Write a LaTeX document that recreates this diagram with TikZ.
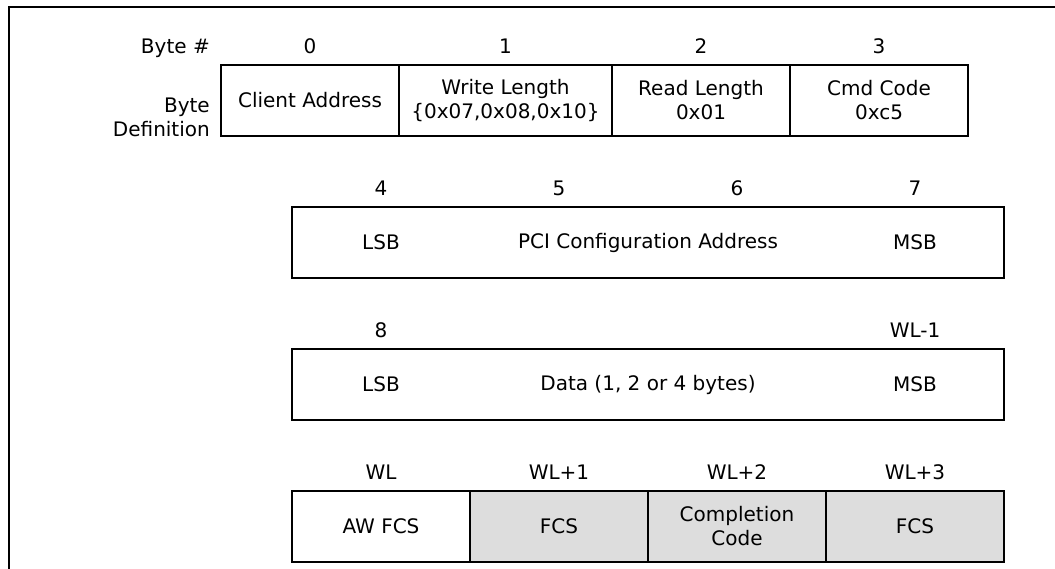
\documentclass[tikz,border=0pt]{standalone}
\usepackage{fontspec}
\setmainfont{DejaVu Sans}
\usepackage{tikz}
\usetikzlibrary{positioning}

\definecolor{cellgray}{RGB}{221,221,221}
\newcommand{\pktfont}{\fontsize{20}{24}\selectfont}

\begin{document}
\begin{tikzpicture}[
  x=1pt, y=-1pt,
  cell/.style={draw, line width=1.4pt, minimum width=178pt, minimum height=71pt,
               inner sep=0pt, outer sep=0pt, align=center, font=\pktfont},
  widecell/.style={cell, minimum width=712pt},
  shaded/.style={cell, fill=cellgray},
  num/.style={inner sep=0pt, font=\pktfont},
  lbl/.style={inner sep=0pt, font=\pktfont}
]
\useasboundingbox (0,0) rectangle (1055,569);
\draw[line width=2.5pt] (9,569) -- (9,7) -- (1055,7);

% header row
\node[lbl, anchor=base east] (bytenum) at (210,54) {Byte \#};
\node[lbl, anchor=north east, align=right] (bytedef) at (210,98) {Byte\\Definition};
\node[cell] (addr) at (310,100.4) {Client Address};
\node[cell, minimum width=213pt, right=0pt of addr] (wlen)
  {Write Length\\\{0x07,0x08,0x10\}};
\node[cell, right=0pt of wlen] (rlen) {Read Length\\0x01};
\node[cell, right=0pt of rlen] (cmd) {Cmd Code\\0xc5};
\node[num, above=11pt of addr] (n0) {0};
\node[num, above=11pt of wlen] (n1) {1};
\node[num, above=11pt of rlen] (n2) {2};
\node[num, above=11pt of cmd] (n3) {3};

% PCI address
\node[widecell] (pci) at (648,242.5) {PCI Configuration Address};
\node[lbl] (pcilsb) at (381,242.5) {LSB};
\node[lbl] (pcimsb) at (915,242.5) {MSB};
\node[num, anchor=south] (n4) at (381,196) {4};
\node[num, anchor=south] (n5) at (559,196) {5};
\node[num, anchor=south] (n6) at (737,196) {6};
\node[num, anchor=south] (n7) at (915,196) {7};

% data
\node[widecell] (data) at (648,384.5) {Data (1, 2 or 4 bytes)};
\node[lbl] (datalsb) at (381,384.5) {LSB};
\node[lbl] (datamsb) at (915,384.5) {MSB};
\node[num, anchor=south] (n8) at (381,338) {8};
\node[num, anchor=south] (nwlm) at (915,338) {WL-1};

% FCS row
\node[cell] (awfcs) at (381,526.5) {AW FCS};
\node[shaded, right=0pt of awfcs] (fcsa) {FCS};
\node[shaded, right=0pt of fcsa] (ccode) {Completion\\Code};
\node[shaded, right=0pt of ccode] (fcsb) {FCS};
\node[num, above=11pt of awfcs] (nwl) {WL};
\node[num, above=11pt of fcsa] (nwla) {WL+1};
\node[num, above=11pt of ccode] (nwlb) {WL+2};
\node[num, above=11pt of fcsb] (nwlc) {WL+3};
\end{tikzpicture}
\end{document}
